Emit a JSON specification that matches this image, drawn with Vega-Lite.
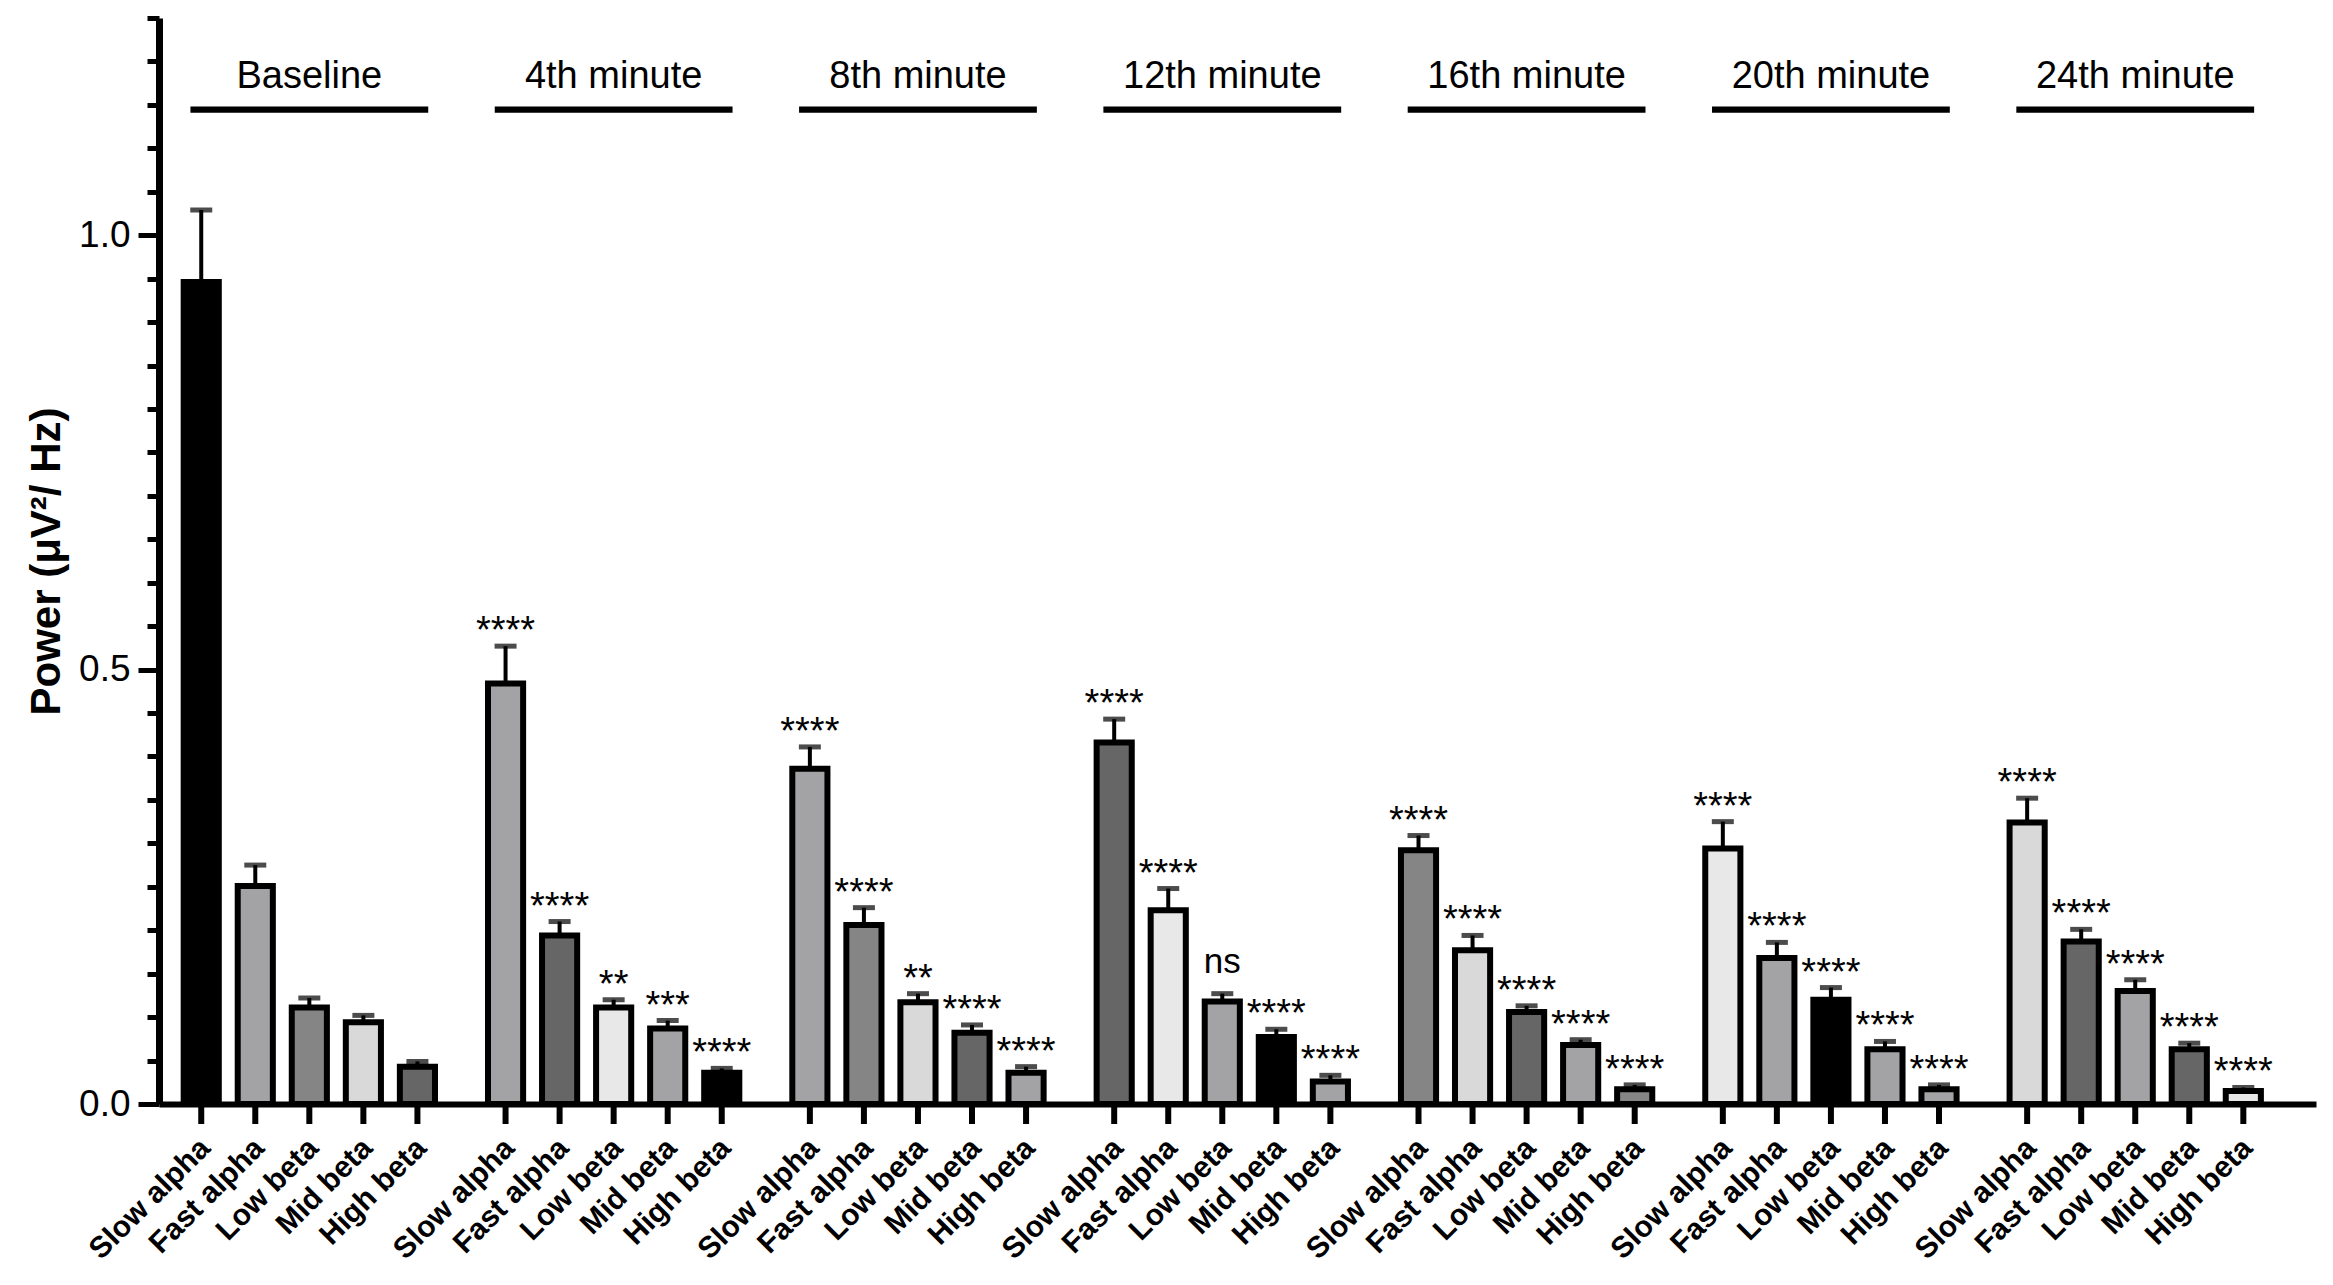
{
  "$schema": "https://vega.github.io/schema/vega-lite/v6.json",
  "width": 2157,
  "height": 1086,
  "autosize": {"type": "none"},
  "padding": {"left": 159, "top": 18, "right": 17, "bottom": 181},
  "background": "white",
  "config": {
    "view": {"stroke": null},
    "font": "Liberation Sans",
    "axis": {"grid": false},
    "axisY": {
      "labelFont": "Liberation Sans",
      "labelFontSize": 37,
      "labelColor": "black",
      "labelPadding": 8,
      "titleFont": "Liberation Sans",
      "titleFontSize": 42,
      "titleFontWeight": "bold",
      "titleColor": "black",
      "titlePadding": 10
    }
  },
  "datasets": {
    "power": [
      {"group": "Baseline", "band": "Slow alpha", "mean": 0.946, "upper": 1.029, "shade": "black", "sig": ""},
      {"group": "Baseline", "band": "Fast alpha", "mean": 0.251, "upper": 0.275, "shade": "grey", "sig": ""},
      {"group": "Baseline", "band": "Low beta", "mean": 0.111, "upper": 0.122, "shade": "medium", "sig": ""},
      {"group": "Baseline", "band": "Mid beta", "mean": 0.094, "upper": 0.102, "shade": "light", "sig": ""},
      {"group": "Baseline", "band": "High beta", "mean": 0.043, "upper": 0.049, "shade": "dark", "sig": ""},
      {"group": "4th minute", "band": "Slow alpha", "mean": 0.484, "upper": 0.527, "shade": "grey", "sig": "****"},
      {"group": "4th minute", "band": "Fast alpha", "mean": 0.194, "upper": 0.210, "shade": "dark", "sig": "****"},
      {"group": "4th minute", "band": "Low beta", "mean": 0.111, "upper": 0.120, "shade": "pale", "sig": "**"},
      {"group": "4th minute", "band": "Mid beta", "mean": 0.087, "upper": 0.096, "shade": "grey", "sig": "***"},
      {"group": "4th minute", "band": "High beta", "mean": 0.036, "upper": 0.041, "shade": "black", "sig": "****"},
      {"group": "8th minute", "band": "Slow alpha", "mean": 0.386, "upper": 0.411, "shade": "grey", "sig": "****"},
      {"group": "8th minute", "band": "Fast alpha", "mean": 0.206, "upper": 0.226, "shade": "medium", "sig": "****"},
      {"group": "8th minute", "band": "Low beta", "mean": 0.117, "upper": 0.127, "shade": "light", "sig": "**"},
      {"group": "8th minute", "band": "Mid beta", "mean": 0.082, "upper": 0.091, "shade": "dark", "sig": "****"},
      {"group": "8th minute", "band": "High beta", "mean": 0.036, "upper": 0.043, "shade": "grey", "sig": "****"},
      {"group": "12th minute", "band": "Slow alpha", "mean": 0.416, "upper": 0.443, "shade": "dark", "sig": "****"},
      {"group": "12th minute", "band": "Fast alpha", "mean": 0.223, "upper": 0.248, "shade": "pale", "sig": "****"},
      {"group": "12th minute", "band": "Low beta", "mean": 0.118, "upper": 0.127, "shade": "grey", "sig": "ns"},
      {"group": "12th minute", "band": "Mid beta", "mean": 0.077, "upper": 0.086, "shade": "black", "sig": "****"},
      {"group": "12th minute", "band": "High beta", "mean": 0.026, "upper": 0.033, "shade": "grey", "sig": "****"},
      {"group": "16th minute", "band": "Slow alpha", "mean": 0.292, "upper": 0.309, "shade": "medium", "sig": "****"},
      {"group": "16th minute", "band": "Fast alpha", "mean": 0.177, "upper": 0.194, "shade": "light", "sig": "****"},
      {"group": "16th minute", "band": "Low beta", "mean": 0.106, "upper": 0.113, "shade": "dark", "sig": "****"},
      {"group": "16th minute", "band": "Mid beta", "mean": 0.068, "upper": 0.074, "shade": "grey", "sig": "****"},
      {"group": "16th minute", "band": "High beta", "mean": 0.017, "upper": 0.022, "shade": "medium", "sig": "****"},
      {"group": "20th minute", "band": "Slow alpha", "mean": 0.294, "upper": 0.325, "shade": "pale", "sig": "****"},
      {"group": "20th minute", "band": "Fast alpha", "mean": 0.168, "upper": 0.186, "shade": "grey", "sig": "****"},
      {"group": "20th minute", "band": "Low beta", "mean": 0.120, "upper": 0.134, "shade": "black", "sig": "****"},
      {"group": "20th minute", "band": "Mid beta", "mean": 0.063, "upper": 0.072, "shade": "grey", "sig": "****"},
      {"group": "20th minute", "band": "High beta", "mean": 0.017, "upper": 0.022, "shade": "grey", "sig": "****"},
      {"group": "24th minute", "band": "Slow alpha", "mean": 0.324, "upper": 0.352, "shade": "light", "sig": "****"},
      {"group": "24th minute", "band": "Fast alpha", "mean": 0.187, "upper": 0.201, "shade": "dark", "sig": "****"},
      {"group": "24th minute", "band": "Low beta", "mean": 0.130, "upper": 0.143, "shade": "grey", "sig": "****"},
      {"group": "24th minute", "band": "Mid beta", "mean": 0.063, "upper": 0.070, "shade": "dark", "sig": "****"},
      {"group": "24th minute", "band": "High beta", "mean": 0.015, "upper": 0.019, "shade": "pale", "sig": "****"}
    ],
    "groups": [
      {"group": "Baseline"},
      {"group": "4th minute"},
      {"group": "8th minute"},
      {"group": "12th minute"},
      {"group": "16th minute"},
      {"group": "20th minute"},
      {"group": "24th minute"}
    ]
  },
  "layer": [
    {
      "data": {"name": "power"},
      "mark": {"type": "bar", "stroke": "black", "strokeWidth": 6},
      "encoding": {
        "x": {
          "field": "group",
          "type": "nominal",
          "scale": {
            "domain": ["Baseline", "4th minute", "8th minute", "12th minute", "16th minute", "20th minute", "24th minute"],
            "paddingInner": 0.112,
            "paddingOuter": 0.1,
            "align": 0.25
          },
          "axis": {"title": null, "labels": false, "ticks": false, "domain": true, "domainWidth": 6, "domainColor": "black"}
        },
        "xOffset": {
          "field": "band",
          "type": "nominal",
          "scale": {
            "domain": ["Slow alpha", "Fast alpha", "Low beta", "Mid beta", "High beta"],
            "paddingInner": 0.35,
            "paddingOuter": 0.175
          }
        },
        "y": {
          "field": "mean",
          "type": "quantitative",
          "scale": {"domain": [0, 1.25], "nice": false, "zero": true},
          "axis": {
            "title": "Power (μV²/ Hz)",
            "values": [0, 0.05, 0.1, 0.15, 0.2, 0.25, 0.3, 0.35, 0.4, 0.45, 0.5, 0.55, 0.6, 0.65, 0.7, 0.75, 0.8, 0.85, 0.9, 0.95, 1, 1.05, 1.1, 1.15, 1.2, 1.25],
            "labelExpr": "datum.value == 0 || datum.value == 0.5 || datum.value == 1 ? format(datum.value, '.1f') : ''",
            "tickSize": {"condition": {"test": "datum.value != 0 && datum.value != 0.5 && datum.value != 1", "value": 12}, "value": 21},
            "tickWidth": 5,
            "tickColor": "black",
            "domain": true,
            "domainWidth": 7,
            "domainColor": "black",
            "labelFontSize": 37,
            "labelPadding": 8,
            "titlePadding": 10
          }
        },
        "color": {
          "field": "shade",
          "type": "nominal",
          "scale": {
            "domain": ["black", "dark", "medium", "grey", "light", "pale"],
            "range": ["#000000", "#666666", "#858585", "#a3a3a6", "#d9d9d9", "#e8e8e8"]
          },
          "legend": null
        }
      }
    },
    {
      "data": {"name": "power"},
      "mark": {"type": "rule", "color": "black", "strokeWidth": 6},
      "encoding": {
        "x": {"field": "group", "type": "nominal"},
        "xOffset": {"field": "band", "type": "nominal"},
        "y": {"datum": 0, "type": "quantitative"},
        "y2": {"datum": -0.023}
      }
    },
    {
      "data": {"name": "power"},
      "mark": {"type": "rule", "color": "black", "strokeWidth": 4},
      "encoding": {
        "x": {"field": "group", "type": "nominal"},
        "xOffset": {"field": "band", "type": "nominal"},
        "y": {"field": "mean", "type": "quantitative"},
        "y2": {"field": "upper"}
      }
    },
    {
      "data": {"name": "power"},
      "mark": {"type": "tick", "color": "black", "size": 22, "thickness": 5, "orient": "horizontal"},
      "encoding": {
        "x": {"field": "group", "type": "nominal"},
        "xOffset": {"field": "band", "type": "nominal"},
        "y": {"field": "upper", "type": "quantitative"}
      }
    },
    {
      "data": {"name": "power"},
      "transform": [{"filter": "datum.sig != '' && datum.sig != 'ns'"}],
      "mark": {"type": "text", "fontSize": 38, "baseline": "alphabetic", "align": "center", "dy": -3, "color": "black"},
      "encoding": {
        "x": {"field": "group", "type": "nominal"},
        "xOffset": {"field": "band", "type": "nominal"},
        "y": {"field": "upper", "type": "quantitative"},
        "text": {"field": "sig"}
      }
    },
    {
      "data": {"name": "power"},
      "transform": [{"filter": "datum.sig == 'ns'"}],
      "mark": {"type": "text", "fontSize": 35, "baseline": "alphabetic", "align": "center", "dy": -21, "color": "black"},
      "encoding": {
        "x": {"field": "group", "type": "nominal"},
        "xOffset": {"field": "band", "type": "nominal"},
        "y": {"field": "upper", "type": "quantitative"},
        "text": {"field": "sig"}
      }
    },
    {
      "data": {"name": "power"},
      "mark": {"type": "text", "angle": 315, "align": "right", "baseline": "middle", "dx": -25, "dy": 31, "fontSize": 30, "fontWeight": "bold", "color": "black"},
      "encoding": {
        "x": {"field": "group", "type": "nominal"},
        "xOffset": {"field": "band", "type": "nominal"},
        "y": {"datum": 0, "type": "quantitative"},
        "text": {"field": "band"}
      }
    },
    {
      "data": {"name": "groups"},
      "mark": {"type": "bar", "color": "black", "width": {"band": 0.88}},
      "encoding": {
        "x": {"field": "group", "type": "nominal"},
        "y": {"datum": 1.148, "type": "quantitative"},
        "y2": {"datum": 1.141}
      }
    },
    {
      "data": {"name": "groups"},
      "mark": {"type": "text", "fontSize": 38, "baseline": "middle", "align": "center", "color": "black"},
      "encoding": {
        "x": {"field": "group", "type": "nominal"},
        "y": {"datum": 1.182, "type": "quantitative"},
        "text": {"field": "group"}
      }
    }
  ]
}
